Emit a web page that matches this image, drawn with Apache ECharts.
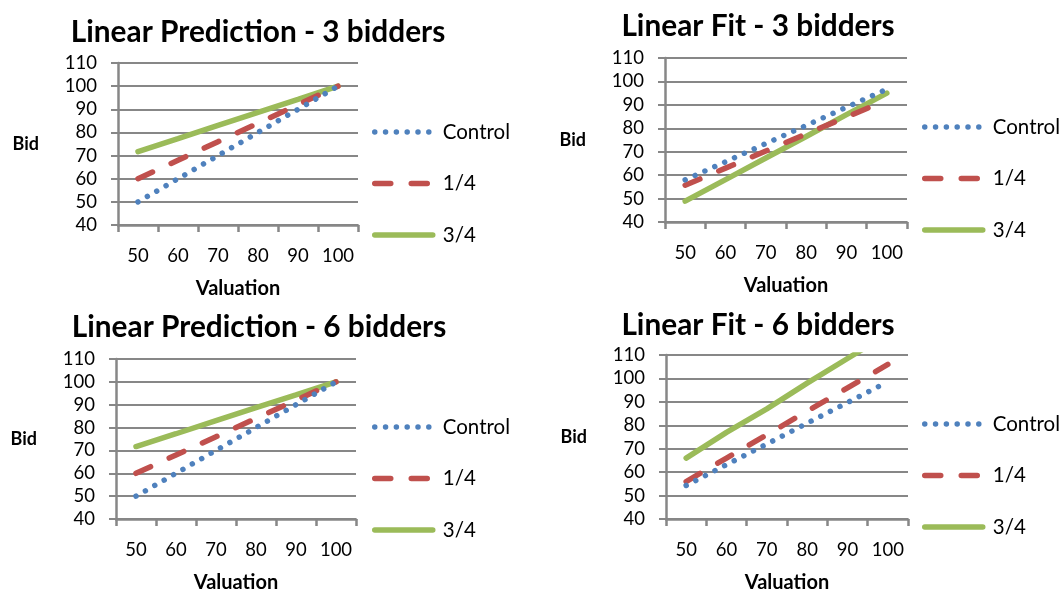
<!DOCTYPE html>
<html><head><meta charset="utf-8">
<script src="https://cdn.jsdelivr.net/npm/echarts@6/dist/echarts.min.js"></script>
<style>html,body{margin:0;padding:0;background:#fff}#c{width:1059px;height:594px}</style>
</head><body><div id="c"></div>
<script>
// ---- data ----
const valuations = ['50', '60', '70', '80', '90', '100'];
const seriesNames = ['Control', '1/4', '3/4'];
const yMin = 40, yMax = 110, yStep = 10;
const panelTitles = ['Linear Prediction - 3 bidders', 'Linear Fit - 3 bidders',
                     'Linear Prediction - 6 bidders', 'Linear Fit - 6 bidders'];
const xName = 'Valuation';
const yName = 'Bid';

const pred3Control = [50, 60, 70, 80, 90, 100];
const pred3Quarter = [60, 68, 76, 84, 92, 100];
const pred3ThreeQuarter = [71.7, 77.3, 83, 88.7, 94.3, 100];

const fit3Control = [58, 65.7, 73.5, 81.2, 89, 96.7];
const fit3Quarter = [55.7, 63, 70.3, 77.6, 84.8, 92.1];
const fit3ThreeQuarter = [48.9, 58.1, 67.3, 76.5, 85.8, 95];

const pred6Control = [50, 60, 70, 80, 90, 100];
const pred6Quarter = [60, 68, 76, 84, 92, 100];
const pred6ThreeQuarter = [71.7, 77.3, 83, 88.7, 94.3, 100];

const fit6Control = [54.3, 63.2, 72, 80.9, 89.7, 98.6];
const fit6Quarter = [56, 66, 76, 86, 96, 106];
const fit6ThreeQuarter = [66, 77, 87, 98, 108.5, 119];

const panelData = [
  [pred3Control, pred3Quarter, pred3ThreeQuarter],
  [fit3Control, fit3Quarter, fit3ThreeQuarter],
  [pred6Control, pred6Quarter, pred6ThreeQuarter],
  [fit6Control, fit6Quarter, fit6ThreeQuarter]
];

// ---- layout / style ----
const grids = [
  {left: 118, top: 63, width: 240, height: 162},
  {left: 665, top: 58, width: 242, height: 164},
  {left: 116, top: 359, width: 240, height: 163},
  {left: 666, top: 355, width: 242, height: 165}
];
const titlePos = [{x: 258, y: 30}, {x: 758, y: 24}, {x: 259, y: 325}, {x: 758, y: 323}];
const legendPos = [{x: 372, y: 132}, {x: 922, y: 127}, {x: 372, y: 427}, {x: 922, y: 424}];
const lineStyles = [
  {color: '#4F81BD', width: 5.5, type: [0.01, 10.8], cap: 'round'},
  {color: '#C0504D', width: 5.5, type: [16, 20.5], cap: 'round'},
  {color: '#9BBB59', width: 5.5, type: 'solid', cap: 'round'}
];
const gridGray = '#878787';
const FONT = 'Lato';

const option = {
  backgroundColor: '#fff',
  animation: false,
  title: panelTitles.map((t, i) => ({
    text: t, left: titlePos[i].x, top: titlePos[i].y - 13, textAlign: 'center', padding: 0,
    textStyle: {fontFamily: FONT, fontWeight: 'bold', fontSize: 29.8, color: '#000'}
  })),
  legend: legendPos.map((p, i) => ({
    orient: 'vertical', left: p.x, top: p.y - 11, itemWidth: 58, itemHeight: 22, itemGap: 29.5,
    selectedMode: false, padding: 0,
    data: seriesNames.map((n, k) => ({name: n,
      itemStyle: {opacity: 0},
      lineStyle: {width: lineStyles[k].width, type: lineStyles[k].type, cap: lineStyles[k].cap,
                  color: lineStyles[k].color, opacity: 1}})),
    textStyle: {fontFamily: FONT, fontSize: 20.5, color: '#000', lineHeight: 22, padding: [0, 0, 0, 5]}
  })),
  grid: grids.map(g => Object.assign({containLabel: false}, g)),
  xAxis: grids.map((g, i) => ({
    type: 'category', gridIndex: i, data: valuations, boundaryGap: true,
    name: xName, nameLocation: 'middle', nameGap: 54,
    nameTextStyle: {fontFamily: FONT, fontWeight: 'bold', fontSize: 20, color: '#000'},
    axisLine: {show: true, lineStyle: {color: gridGray, width: 2.5}},
    axisTick: {show: true, length: 7, interval: 0, lineStyle: {color: gridGray, width: 2.5}},
    axisLabel: {interval: 0, margin: 22, fontFamily: FONT, fontSize: 18.5, color: '#000'},
    splitLine: {show: false}
  })),
  yAxis: grids.map((g, i) => ({
    type: 'value', gridIndex: i, min: yMin, max: yMax, interval: yStep,
    name: yName, nameLocation: 'middle', nameRotate: 0, nameGap: 79,
    nameTextStyle: {fontFamily: FONT, fontWeight: 'bold', fontSize: 18, color: '#000'},
    axisLine: {show: true, lineStyle: {color: gridGray, width: 2.5}},
    axisTick: {show: true, length: 7, lineStyle: {color: gridGray, width: 2}},
    axisLabel: {margin: 21, fontFamily: FONT, fontSize: 18.5, color: '#000'},
    splitLine: {show: true, lineStyle: {color: gridGray, width: 2}}
  })),
  series: []
};

panelData.forEach((sets, i) => {
  sets.forEach((vals, k) => {
    option.series.push({
      type: 'line', name: seriesNames[k], xAxisIndex: i, yAxisIndex: i,
      data: vals, symbol: 'none', showSymbol: false, clip: true,
      lineStyle: {color: lineStyles[k].color, width: lineStyles[k].width,
                  type: lineStyles[k].type, cap: lineStyles[k].cap},
      itemStyle: {color: lineStyles[k].color},
      z: 3 - k
    });
  });
});

const chart = echarts.init(document.getElementById('c'), null, {renderer: 'canvas'});
chart.setOption(option);
</script>
</body></html>
